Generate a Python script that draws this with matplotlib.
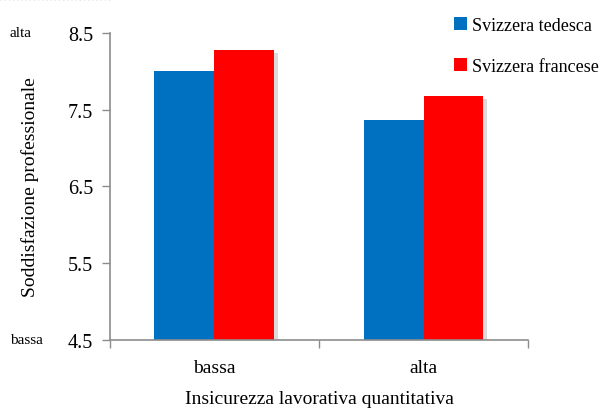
import matplotlib
matplotlib.use("Agg")
import matplotlib.pyplot as plt
import numpy as np
from matplotlib import patheffects as pe
from matplotlib.lines import Line2D
from matplotlib.patches import Patch
from matplotlib.transforms import blended_transform_factory

categories = ["bassa", "alta"]
series_names = ["Svizzera tedesca", "Svizzera francese"]
tedesca = [8.00, 7.36]
francese = [8.28, 7.68]
y_ticks = [4.5, 5.5, 6.5, 7.5, 8.5]
y_tick_labels = ["4.5", "5.5", "6.5", "7.5", "8.5"]
colors = ["#0070C0", "#FF0000"]

plt.rcParams["font.family"] = ["Liberation Serif", "DejaVu Serif"]

fig = plt.figure(figsize=(5.99, 4.10), dpi=100)
ax = fig.add_axes([0.1836, 0.1683, 0.6979, 0.7488])

x = np.arange(len(categories))
w = 0.287
shadow = [pe.SimplePatchShadow(offset=(2.5, -2.5), shadow_rgbFace="#b0b0b0", alpha=0.45), pe.Normal()]
for i, (vals, col) in enumerate(zip([tedesca, francese], colors)):
    bars = ax.bar(x + (i - 0.5) * w, np.array(vals) - 4.5, width=w, bottom=4.5,
                  color=col, edgecolor="none", zorder=2)
    for b in bars:
        b.set_path_effects(shadow)

ax.set_xlim(-0.5, 1.5)
ax.set_ylim(4.5, 8.5)
ax.set_yticks(y_ticks)
ax.set_yticklabels(y_tick_labels, fontsize=14.5)
ax.set_xticks(x)
ax.set_xticklabels(categories, fontsize=14)
ax.set_xticks([-0.5, 0.5, 1.5], minor=True)
ax.tick_params(axis="x", which="major", length=0, pad=14)
ax.tick_params(axis="x", which="minor", length=6, width=1, color="#8c8c8c", direction="out")
ax.tick_params(axis="y", length=6, width=1, color="#8c8c8c", direction="out", pad=6)

for s in ["top", "right"]:
    ax.spines[s].set_visible(False)
for s in ["left", "bottom"]:
    ax.spines[s].set_color("#8c8c8c")
    ax.spines[s].set_linewidth(1.2)

ax.set_xlabel("Insicurezza lavorativa quantitativa", fontsize=14)
ax.set_ylabel("Soddisfazione professionale", fontsize=14)
ax.xaxis.set_label_coords(0.5, -0.192)
ax.yaxis.set_label_coords(-0.191, 0.5)
ax.xaxis.label.set_va("center")
ax.yaxis.label.set_va("center")

# scale anchors on the far left
tr = blended_transform_factory(fig.transFigure, ax.transData)
ax.text(10 / 599, 8.5, "alta", transform=tr, fontsize=11, va="center", ha="left")
ax.text(10 / 599, 4.5, "bassa", transform=tr, fontsize=11, va="center", ha="left")

handles = [Patch(facecolor=c, edgecolor="none") for c in colors]
fig.legend(handles, series_names, loc="upper left", bbox_to_anchor=(450 / 599, 1 - 14 / 410),
           frameon=False, fontsize=13, handlelength=0.72, handleheight=0.72,
           handletextpad=0.3, labelspacing=1.35, borderaxespad=0, borderpad=0.2)

# dotted rule along the upper-left edge
fig.add_artist(Line2D([0, 112 / 599], [0.999, 0.999], transform=fig.transFigure,
                      color="#9a9a9a", linestyle=(0, (1, 2)), linewidth=1))

fig.savefig("out.png", dpi=100)
